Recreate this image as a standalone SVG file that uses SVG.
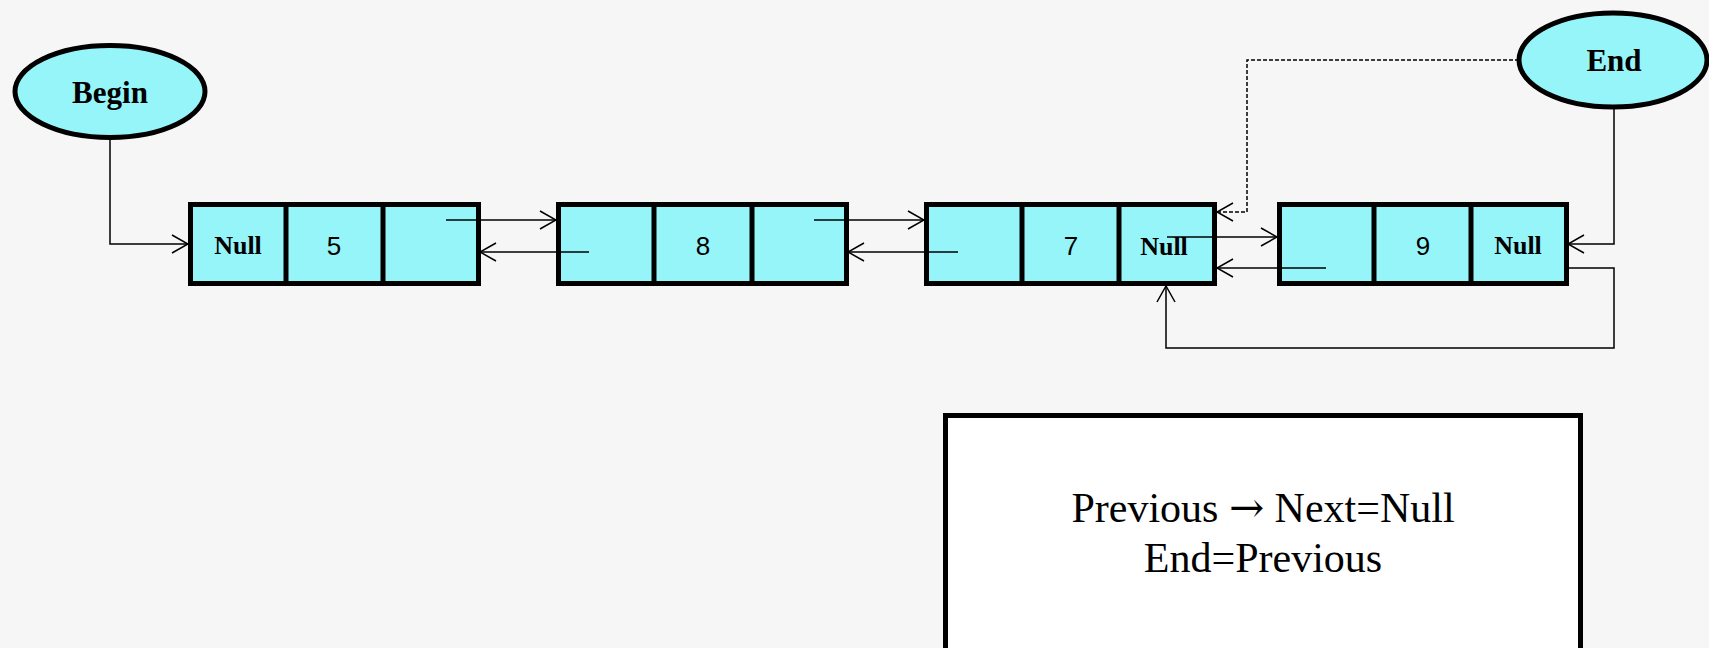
<svg xmlns="http://www.w3.org/2000/svg" width="1709" height="648" viewBox="0 0 1709 648">
<style>
.cell{fill:#96f5f9;stroke:#000;stroke-width:5}
.div{stroke:#000;stroke-width:5}
.oval{fill:#96f5f9;stroke:#000;stroke-width:5}
.lbl{font-family:"Liberation Serif","Times New Roman",serif;font-weight:bold;text-anchor:middle;fill:#000}
.num{font-family:"Liberation Sans",Arial,sans-serif;font-size:26px;text-anchor:middle;fill:#000}
.con{fill:none;stroke:#000;stroke-width:1.5}
.dash{stroke-dasharray:4 2}
.note{font-family:"Liberation Serif","Times New Roman",serif;font-size:42px;text-anchor:middle;fill:#000}
.arrg{font-family:"DejaVu Serif",serif}
</style>
<defs>
<marker id="arr" markerUnits="userSpaceOnUse" viewBox="0 0 18 22" refX="17" refY="11" markerWidth="18" markerHeight="22" orient="auto">
<path d="M1,2 L17,11 L1,20" fill="none" stroke="#000" stroke-width="1.5"/>
</marker>
</defs>
<rect x="0" y="0" width="1709" height="648" fill="#f6f6f6"/>

<g id="begin">
<ellipse class="oval" cx="110" cy="91.5" rx="95" ry="46"/>
<text class="lbl" x="110" y="103" font-size="31">Begin</text>
</g>
<g id="end">
<ellipse class="oval" cx="1613" cy="60" rx="94" ry="47"/>
<text class="lbl" x="1614" y="71" font-size="31">End</text>
</g>

<g id="node1">
<rect class="cell" x="190.5" y="204.5" width="288" height="79"/>
<line class="div" x1="286" y1="204" x2="286" y2="284"/>
<line class="div" x1="383" y1="204" x2="383" y2="284"/>
<text class="lbl" x="238" y="254" font-size="26">Null</text>
<text class="num" x="334" y="255">5</text>
</g>
<g id="node2">
<rect class="cell" x="558.5" y="204.5" width="288" height="79"/>
<line class="div" x1="654" y1="204" x2="654" y2="284"/>
<line class="div" x1="752" y1="204" x2="752" y2="284"/>
<text class="num" x="703" y="255">8</text>
</g>
<g id="node3">
<rect class="cell" x="926.5" y="204.5" width="288" height="79"/>
<line class="div" x1="1022" y1="204" x2="1022" y2="284"/>
<line class="div" x1="1119" y1="204" x2="1119" y2="284"/>
<text class="num" x="1071" y="255">7</text>
<text class="lbl" x="1164" y="255" font-size="26">Null</text>
</g>
<g id="node4">
<rect class="cell" x="1279.5" y="204.5" width="287" height="79"/>
<line class="div" x1="1374" y1="204" x2="1374" y2="284"/>
<line class="div" x1="1471" y1="204" x2="1471" y2="284"/>
<text class="num" x="1423" y="255">9</text>
<text class="lbl" x="1518" y="254" font-size="26">Null</text>
</g>

<g id="connectors">
<path class="con" d="M110,138 V244 H188" marker-end="url(#arr)"/>
<path class="con" d="M446,220 H556" marker-end="url(#arr)"/>
<path class="con" d="M589,252 H480" marker-end="url(#arr)"/>
<path class="con" d="M814,220 H924" marker-end="url(#arr)"/>
<path class="con" d="M958,252 H848" marker-end="url(#arr)"/>
<path class="con" d="M1167,237 H1277" marker-end="url(#arr)"/>
<path class="con" d="M1326,268 H1217" marker-end="url(#arr)"/>
<path class="con" d="M1614,107 V244 H1568" marker-end="url(#arr)"/>
<path class="con dash" d="M1519,60 H1247 V212 H1217" marker-end="url(#arr)"/>
<path class="con" d="M1568,268 H1614 V348 H1166 V286" marker-end="url(#arr)"/>
</g>

<g id="note">
<rect x="945.5" y="415.5" width="635" height="260" fill="#fff" stroke="#000" stroke-width="5"/>
<text class="note" x="1263" y="522">Previous <tspan class="arrg">→</tspan> Next=Null</text>
<text class="note" x="1263" y="572">End=Previous</text>
</g>
</svg>
